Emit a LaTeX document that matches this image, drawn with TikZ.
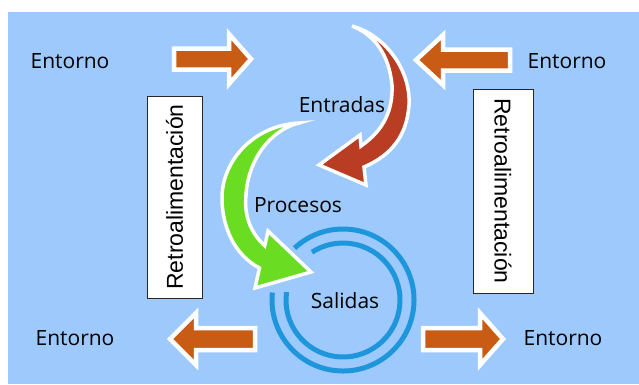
\documentclass[tikz,border=0pt]{standalone}
\usepackage{fontspec}
\setmainfont{Open Sans}
\newfontfamily\boxfont{Liberation Sans}
\definecolor{bgblue}{RGB}{157,201,253}
\definecolor{arrorange}{RGB}{200,92,20}
\definecolor{arrred}{RGB}{184,61,34}
\definecolor{arrgreen}{RGB}{106,220,34}
\definecolor{ringblue}{RGB}{30,150,220}
\tikzset{
  lbl/.style={font=\fontsize{21}{24}\selectfont, text=black, inner sep=0pt},
  fbox/.style={draw=black!85, line width=0.9pt, fill=white, inner sep=0pt},
  boxtxt/.style={inner sep=0pt, font=\boxfont\fontsize{23}{26}\selectfont},
  flat/.style={fill=arrorange, draw=white, line width=4.5pt, line join=miter},
  curved/.style={draw=white, line width=3.5pt, line join=miter},
  ring/.style={draw=ringblue, line width=5pt}
}
\begin{document}
\begin{tikzpicture}[x=1pt,y=-1pt]
\useasboundingbox (0,0) rectangle (639,384);
\fill[white] (0,0) rectangle (639,384);
\fill[bgblue] (8,12) rectangle (639,384);

% labels Entorno
\node[lbl] (e1) at (70,61) {Entorno};
\node[lbl] (e2) at (567,61) {Entorno};
\node[lbl] (e3) at (75,338) {Entorno};
\node[lbl] (e4) at (563,338) {Entorno};

% flat orange arrows
\path[flat] (174,48.5) -- (229,48.5) -- (229,34) -- (251,59) -- (229,84) -- (229,69.5) -- (174,69.5) -- cycle;
\path[flat] (510,49.5) -- (443,49.5) -- (443,35) -- (416,60) -- (443,85) -- (443,70.5) -- (510,70.5) -- cycle;
\path[flat] (255,328) -- (196,328) -- (196,313) -- (170,339) -- (196,365) -- (196,350) -- (255,350) -- cycle;
\path[flat] (423,328) -- (480,328) -- (480,313) -- (503,339) -- (480,365) -- (480,350) -- (423,350) -- cycle;

% feedback boxes
\node[fbox, minimum width=55pt, minimum height=202pt] (b1) at (174.5,197) {};
\node[rotate=90, boxtxt] (t1) at (b1.center) {Retroalimentación};
\node[fbox, minimum width=60pt, minimum height=204pt] (b2) at (503,191) {};
\node[rotate=-90, boxtxt] (t2) at (b2.center) {Retroalimentación};

% rings (Salidas)
\coordinate (c) at (343,300);
\draw[ring] (c) ++(-174:71) arc[start angle=-174, end angle=-493, radius=71];
\draw[ring] (c) ++(-172:57) arc[start angle=-172, end angle=-483, radius=57];
\node[lbl] (sal) at (345,301) {Salidas};

% red curved arrow (Entradas)
\path[curved, fill=arrred] (352,26) .. controls (385,35) and (411,70) .. (409,105)
  .. controls (407,135) and (392,155) .. (364,167) -- (366,185) -- (319,165) -- (360,135) -- (361,146)
  .. controls (384,130) and (393,110) .. (392,85) .. controls (389,55) and (375,35) .. cycle;
\node[lbl] (ent) at (342,105) {Entradas};

% green curved arrow (Procesos)
\path[curved, fill=arrgreen] (299,123) .. controls (255,125) and (221,160) .. (222,200)
  .. controls (223,235) and (240,258) .. (259.5,268) -- (255,288) -- (311,272) -- (268,231) -- (264.75,245.75)
  .. controls (250,232) and (244,215) .. (246,195) .. controls (248,160) and (270,130) .. cycle;
\node[lbl] (pro) at (298,205) {Procesos};
\end{tikzpicture}
\end{document}
